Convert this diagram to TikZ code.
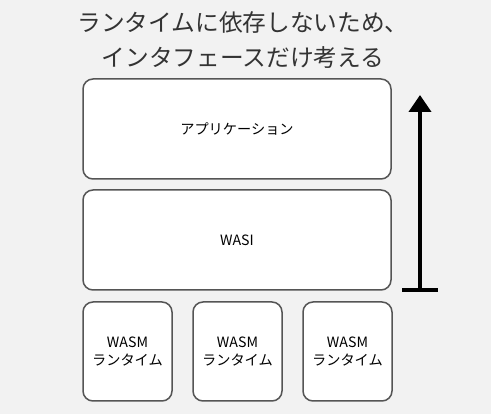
\documentclass[tikz,border=0pt]{standalone}
\usepackage{fontspec}
\setmainfont{Noto Sans CJK JP}
\usetikzlibrary{arrows.meta}
\definecolor{bg}{HTML}{F2F2F2}
\definecolor{edge}{HTML}{555555}
\definecolor{ttl}{HTML}{333333}
\begin{document}
\begin{tikzpicture}[x=1pt,y=-1pt,
  layer/.style={draw=edge,line width=1.5pt,fill=white,rounded corners=10pt},
  lbl/.style={font=\fontsize{14.2}{17.5}\selectfont,align=center,text=black}]
\fill[bg] (0,0) rectangle (491,414);
\useasboundingbox (0,0) rectangle (491,414);
\node[font=\fontsize{23.7}{35}\selectfont,text=ttl,align=center] (title) at (243,40.5) {ランタイムに依存しないため、\\インタフェースだけ考える};
\draw[layer] (83,79) rectangle (391,179);
\node[lbl] (app) at (237,129) {アプリケーション};
\draw[layer] (83,190) rectangle (391,290);
\node[lbl] (wasi) at (237,240) {WASI};
\draw[layer] (83,302) rectangle (172,401);
\node[lbl] (r1) at (127.5,351.5) {WASM\\ランタイム};
\draw[layer] (193,302) rectangle (282,401);
\node[lbl] (r2) at (237.5,351.5) {WASM\\ランタイム};
\draw[layer] (303,302) rectangle (392,401);
\node[lbl] (r3) at (347.5,351.5) {WASM\\ランタイム};
\coordinate (abot) at (420,290);
\coordinate (atop) at (420,95);
\draw[line width=4pt,-{Triangle[width=22pt,length=17pt]}] (abot) -- (atop);
\draw[line width=4pt] (402,290) -- (438,290);
\end{tikzpicture}
\end{document}
